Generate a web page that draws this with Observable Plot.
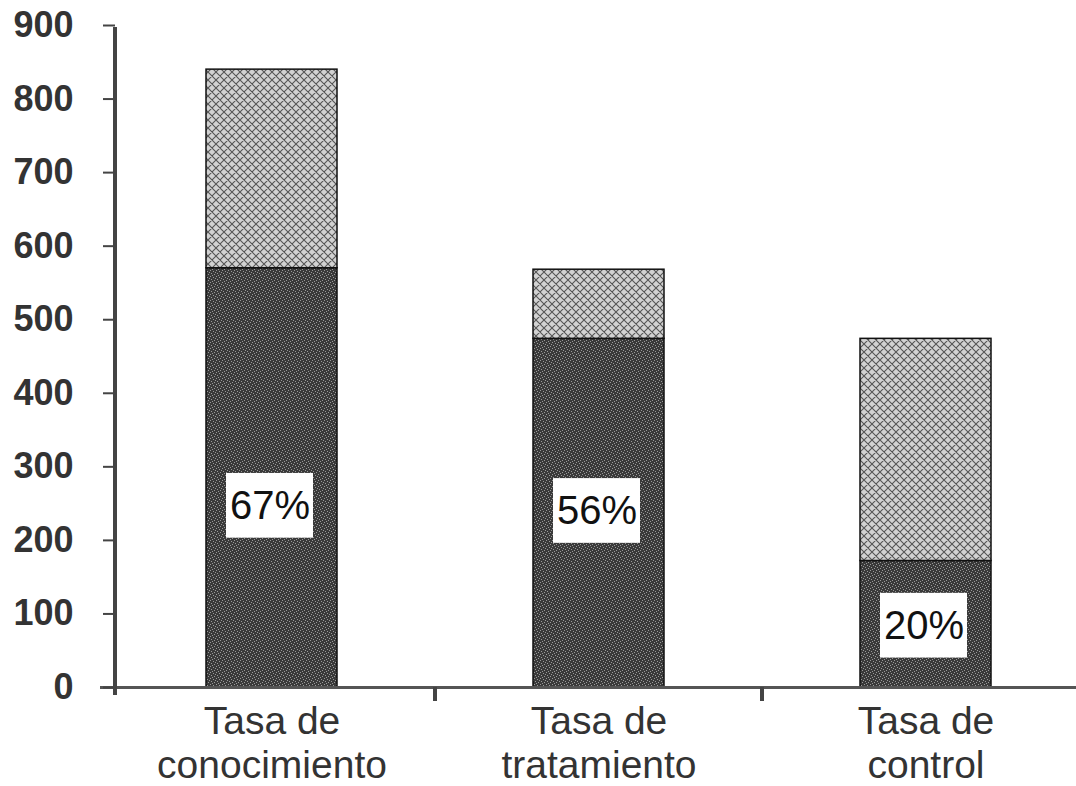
<!DOCTYPE html>
<html><head><meta charset="utf-8">
<script src="https://cdn.jsdelivr.net/npm/d3@7"></script>
<script src="https://cdn.jsdelivr.net/npm/@observablehq/plot@0.6"></script>
<style>body{margin:0;background:#fff;}</style>
</head><body><div id="chart"></div>
<script>
const categories = ["Tasa de\nconocimiento", "Tasa de\ntratamiento", "Tasa de\ncontrol"];
const darkValues = [570, 474, 172];
const totalValues = [840, 568, 474];
const percentLabels = ["67%", "56%", "20%"];
const labelAt = [247, 240, 84];
const yTicks = [0, 100, 200, 300, 400, 500, 600, 700, 800, 900];

const rows = categories.map((c, i) => ({cat: c, dark: darkValues[i], total: totalValues[i], pct: percentLabels[i], at: labelAt[i]}));

const defsMark = () => {
  const g = d3.create("svg:defs");
  const lp = g.append("pattern").attr("id", "lightPat").attr("patternUnits", "userSpaceOnUse").attr("width", 8).attr("height", 8);
  lp.append("rect").attr("width", 8).attr("height", 8).attr("fill", "#d2d2d2");
  lp.append("path").attr("d", "M0,0L8,8M8,0L0,8M-1,7L1,9M7,-1L9,1M7,9L9,7M-1,1L1,-1").attr("stroke", "#555").attr("stroke-width", 1.1);
  const dp = g.append("pattern").attr("id", "darkPat").attr("patternUnits", "userSpaceOnUse").attr("width", 6).attr("height", 6);
  dp.append("rect").attr("width", 6).attr("height", 6).attr("fill", "#3a3a3a");
  [[0,0],[3,1],[1,3],[4,4],[5,2],[2,5]].forEach(([a,b]) => dp.append("rect").attr("x", a).attr("y", b).attr("width", 1).attr("height", 1).attr("fill", "#9a9a9a"));
  return g.node();
};

const axisLines = (index, scales, values, dims) => {
  const {x, y} = scales;
  const g = d3.create("svg:g").attr("stroke", "#444").attr("stroke-width", 4);
  g.append("line").attr("x1", dims.marginLeft).attr("x2", dims.marginLeft)
    .attr("y1", y(yTicks[yTicks.length - 1]) + 2).attr("y2", y(0) + 8);
  const bw = typeof x.bandwidth === "function" ? x.bandwidth() : (x.bandwidth || 0);
  const step = x(categories[1]) - x(categories[0]);
  for (let i = 0; i < categories.length - 1; i++) {
    const bx = x(categories[i]) + bw + (step - bw) / 2;
    g.append("line").attr("x1", bx).attr("x2", bx).attr("y1", y(0)).attr("y2", y(0) + 14);
  }
  return g.node();
};

const chart = Plot.plot({
  width: 1076,
  height: 786,
  marginTop: 25,
  marginBottom: 99,
  marginLeft: 115,
  marginRight: 0,
  style: {fontFamily: "'Liberation Sans', Arial, sans-serif", background: "#fff"},
  x: {domain: categories, range: [108, 1089], paddingInner: 0.6, paddingOuter: 0.3, axis: null},
  y: {domain: [0, 900], axis: null},
  marks: [
    defsMark,
    Plot.barY(rows, {x: "cat", y1: 0, y2: "dark", fill: "url(#darkPat)", stroke: "#111", strokeWidth: 1.5}),
    Plot.barY(rows, {x: "cat", y1: "dark", y2: "total", fill: "url(#lightPat)", stroke: "#111", strokeWidth: 1.5}),
    Plot.barY(rows, {x: "cat", y1: d => d.at - 44, y2: d => d.at + 44, insetLeft: 20, insetRight: 24, fill: "white"}),
    Plot.text(rows, {x: "cat", y: "at", text: "pct", fontSize: 40, fill: "#111", dx: -2}),
    Plot.ruleY([0], {insetLeft: -15, stroke: "#555", strokeWidth: 3}),
    axisLines,
    Plot.axisY({ticks: yTicks, anchor: "left", tickSize: 12, tickPadding: 30, fontSize: 36, fontWeight: "bold", fill: "#333", stroke: "#444", strokeWidth: 2, label: null}),
    Plot.text(rows, {x: "cat", y: 0, text: "cat", dy: 15, lineAnchor: "top", lineHeight: 1.13, fontSize: 39, fill: "#333"})
  ]
});
document.getElementById("chart").appendChild(chart);
</script>
</body></html>
